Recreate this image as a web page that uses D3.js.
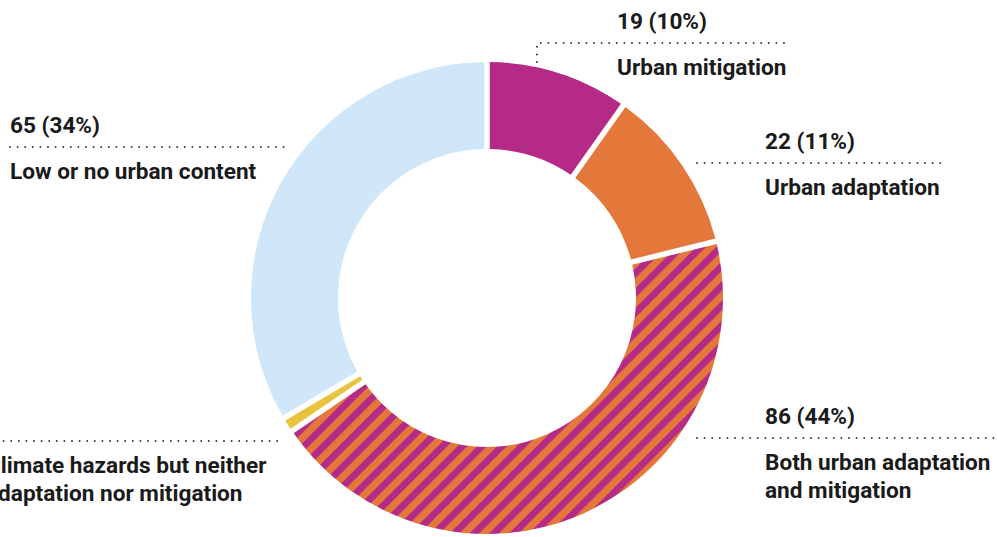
<!DOCTYPE html>
<html>
<head>
<meta charset="utf-8">
<script src="https://cdn.jsdelivr.net/npm/d3@7"></script>
<style>
  html, body { margin: 0; padding: 0; background: #fff; }
  svg { display: block; }
  .label { font-family: Roboto, "Liberation Sans", sans-serif; font-weight: 700; font-size: 22.6px; fill: #1a1a1a; }
  .leader { fill: none; stroke: #3a3a3a; stroke-width: 2; stroke-linecap: round; stroke-dasharray: 0 7.6; }
</style>
</head>
<body>
<div id="chart"></div>
<script>
"use strict";

var width = 997;
var height = 537;

// *********** data *************
var categories = [
  "Urban mitigation",
  "Urban adaptation",
  "Both urban adaptation and mitigation",
  "Climate hazards but neither adaptation nor mitigation",
  "Low or no urban content"
];
var values = [19, 22, 86, 2, 65];
var labelLines = [
  ["Urban mitigation"],
  ["Urban adaptation"],
  ["Both urban adaptation", "and mitigation"],
  ["Climate hazards but neither", "adaptation nor mitigation"],
  ["Low or no urban content"]
];
var showValue = [true, true, true, false, true];

var colors = ["#b52a87", "#e3783a", "stripes", "#e9c340", "#cfe7f8"];

// label placement: line y, line x range, text x
var labelLayout = [
  { lineY: 43, x1: 537, x2: 786, textX: 617, drop: 62 },
  { lineY: 163, x1: 697, x2: 945, textX: 765 },
  { lineY: 438, x1: 697, x2: 1000, textX: 765 },
  { lineY: 441, x1: -4, x2: 282, textX: -14 },
  { lineY: 147, x1: 10, x2: 290, textX: 10 }
];

var cx = 487;
var cy = 298;
var outerRadius = 236;
var innerRadius = 149;
var gap = 5.5;

var total = d3.sum(values);

var svg = d3.select("#chart").append("svg")
  .attr("width", width)
  .attr("height", height);

// diagonal stripe pattern for the "both" slice
var stripe = 14;
var pattern = svg.append("defs").append("pattern")
  .attr("id", "stripes")
  .attr("patternUnits", "userSpaceOnUse")
  .attr("width", stripe)
  .attr("height", stripe)
  .attr("patternTransform", "rotate(45)");

pattern.append("rect").attr("x", 0).attr("y", 0).attr("width", stripe).attr("height", stripe).attr("fill", colors[1]);
pattern.append("rect").attr("x", 0).attr("y", 0).attr("width", 6.8).attr("height", stripe).attr("fill", colors[0]);

var pie = d3.pie().sort(null).value(function (d) { return d; });

var arc = d3.arc()
  .innerRadius(innerRadius)
  .outerRadius(outerRadius)
  .padRadius(outerRadius)
  .padAngle(gap / outerRadius);

var donut = svg.append("g")
  .attr("transform", "translate(" + cx + "," + cy + ")");

donut.selectAll("path")
  .data(pie(values))
  .enter().append("path")
  .attr("d", arc)
  .attr("fill", function (d, i) {
    return colors[i] === "stripes" ? "url(#stripes)" : colors[i];
  });

// labels
var labels = svg.append("g").classed("labels", true);

categories.forEach(function (cat, i) {
  var lay = labelLayout[i];
  var g = labels.append("g");

  var pts = [[lay.x1, lay.lineY], [lay.x2, lay.lineY]];
  if (lay.drop) pts.unshift([lay.x1, lay.drop]);
  g.append("path")
    .attr("class", "leader")
    .attr("d", d3.line()(pts));

  if (showValue[i]) {
    var pct = Math.round(values[i] / total * 100);
    g.append("text")
      .attr("class", "label")
      .attr("x", lay.textX)
      .attr("y", lay.lineY - 14)
      .text(values[i] + " (" + pct + "%)");
  }

  labelLines[i].forEach(function (line, j) {
    g.append("text")
      .attr("class", "label")
      .attr("x", lay.textX)
      .attr("y", lay.lineY + 32 + j * 28)
      .text(line);
  });
});
</script>
</body>
</html>
